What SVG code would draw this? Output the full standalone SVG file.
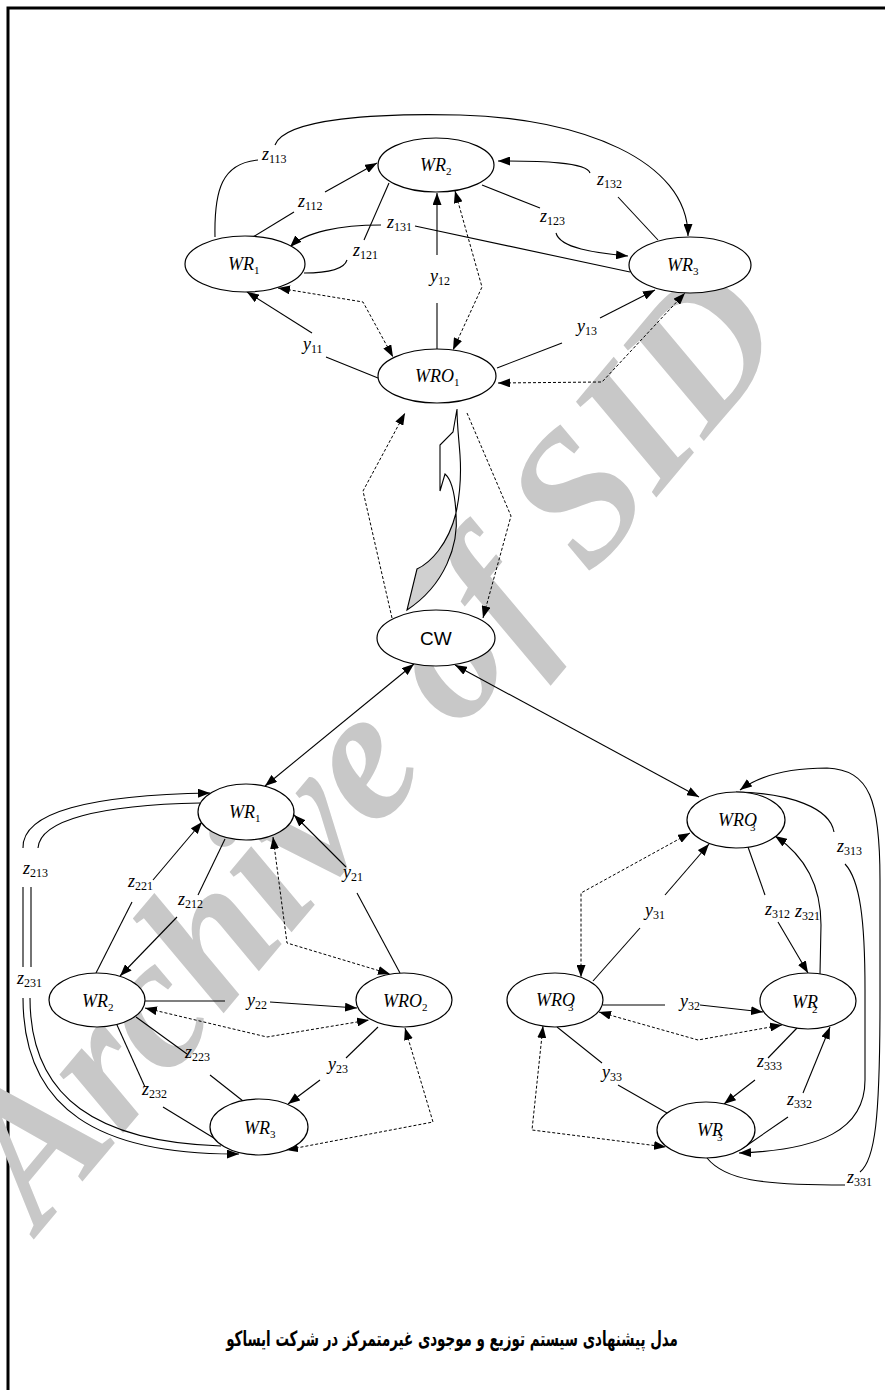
<svg xmlns="http://www.w3.org/2000/svg" width="885" height="1390" viewBox="0 0 885 1390">
<style>
.bg{fill:#fff}
.wm{font-family:"Liberation Serif",serif;font-weight:bold;font-style:italic;font-size:188px;fill:#c8c8c8}
.node ellipse{fill:#fff;stroke:#000;stroke-width:1.2}
.n{font-family:"Liberation Serif",serif;font-style:italic;font-size:18px;fill:#000}
.sn{font-style:normal;font-size:11px}
.cw{font-family:"Liberation Sans",Arial,sans-serif;font-size:19px;fill:#000}
.v{font-family:"Liberation Serif",serif;font-style:italic;font-size:18px;fill:#000}
.s{font-style:normal;font-size:12px}
.c path{fill:none;stroke:#000;stroke-width:1.1}
.c .d{stroke-dasharray:3,2;stroke-width:1}
.c .e{marker-end:url(#a)}
.c .b{marker-start:url(#a);marker-end:url(#a)}
.c .g{fill:#d0d0d0}
.c .w{fill:#fff}
.cap{font-family:"DejaVu Sans",sans-serif;font-weight:bold;font-size:21px;fill:#000}
</style>
<defs>
<marker id="a" viewBox="0 0 12 9" markerWidth="12" markerHeight="9" refX="12" refY="4.5" orient="auto-start-reverse" markerUnits="userSpaceOnUse"><path d="M0,0L12,4.5L0,9z" fill="#000"/></marker>
</defs>
<rect class="bg" x="0" y="0" width="885" height="1390"/>
<path d="M8,1390V8H885" fill="none" stroke="#000" stroke-width="3"/>
<text class="wm" transform="translate(40,1232) rotate(-50)">Archive of SID</text>

<g id="connectors" class="c">
<!-- top cluster -->
<path d="M215,237 C214,190 222,163 258,160"/>
<path class="e" d="M275,145 C285,118 380,113 460,115 C580,118 688,160 688,236"/>
<path d="M253,237 L294,212"/>
<path class="e" d="M325,192 L377,163"/>
<path d="M389,183 L364,240"/>
<path d="M347,260 C344,270 325,273 304,273"/>
<path d="M630,272 L415,226"/>
<path class="e" d="M381,225 C340,225 305,232 290,247"/>
<path d="M658,240 L618,197"/>
<path class="e" d="M590,173 C587,162 540,161 498,161"/>
<path d="M482,185 L540,208"/>
<path class="e" d="M556,233 C560,248 595,253 628,256"/>
<path d="M437,349 L437,303"/>
<path class="e" d="M437,255 L437,193"/>
<path class="d b" d="M455,191 L482,287 L453,350"/>
<path class="d b" d="M278,288 L363,302 L393,357"/>
<path d="M378,378 L326,357"/>
<path class="e" d="M312,333 L247,292"/>
<path d="M497,368 L562,343"/>
<path class="e" d="M600,318 L655,290"/>
<path class="d b" d="M498,383 L602,382 L685,293"/>
<!-- middle -->
<path class="d e" d="M392,618 L363,491 L405,413"/>
<path class="d e" d="M467,413 L511,516 L483,618"/>
<path class="g" d="M407,610 L417,569 C430,563 448,545 456,513 C459,545 445,585 407,610 Z"/>
<path class="w" d="M456,513 C461,490 461,470 460,455 C459,440 457,425 457,409 L453,432 L440,445 L440,491 L445,474 C452,480 455,495 456,513 Z"/>
<path class="b" d="M414,664 L265,786"/>
<path class="b" d="M455,665 L699,797"/>
<!-- bottom-left cluster -->
<path class="e" d="M23,848 C22,812 90,795 210,793"/>
<path d="M38,848 C40,820 100,805 200,803"/>
<path d="M23,887 L23,967"/>
<path d="M31,887 L31,967"/>
<path class="e" d="M23,998 C23,1110 100,1155 239,1154"/>
<path d="M30,998 C30,1100 100,1142 221,1146"/>
<path d="M96,973 L132,902"/>
<path class="e" d="M153,880 L202,822"/>
<path d="M225,839 L198,895"/>
<path class="e" d="M177,917 L120,976"/>
<path d="M145,1001 L225,1001"/>
<path class="e" d="M270,1002 L357,1008"/>
<path class="d b" d="M145,1008 L267,1037 L369,1020"/>
<path class="d b" d="M273,837 L287,943 L390,974"/>
<path d="M400,973 L357,893"/>
<path class="e" d="M346,867 L294,815"/>
<path d="M378,1027 L346,1058"/>
<path class="e" d="M320,1080 L288,1104"/>
<path class="d b" d="M405,1028 L433,1122 L286,1150"/>
<path d="M136,1017 L187,1054"/>
<path d="M210,1075 L243,1101"/>
<path d="M117,1025 L145,1087"/>
<path d="M163,1107 L222,1143"/>
<!-- bottom-right cluster -->
<path d="M593,981 L640,928"/>
<path class="e" d="M665,895 L709,844"/>
<path class="d b" d="M690,833 L581,893 L581,977"/>
<path d="M603,1005 L665,1005"/>
<path class="e" d="M700,1005 L763,1012"/>
<path class="d b" d="M599,1012 L698,1040 L782,1025"/>
<path d="M557,1027 L602,1063"/>
<path d="M618,1085 L667,1113"/>
<path class="d b" d="M543,1026 L532,1130 L666,1147"/>
<path d="M748,847 L765,895"/>
<path class="e" d="M778,922 L808,973"/>
<path class="e" d="M820,974 L821,925 C821,890 808,858 775,836"/>
<path d="M736,792 C790,793 830,808 834,832"/>
<path class="e" d="M845,864 C860,880 865,920 865,990 L865,1080 C865,1130 820,1150 739,1153"/>
<path d="M707,1158 C725,1180 760,1185 845,1185"/>
<path class="e" d="M860,1172 C875,1160 880,1120 880,1000 L880,880 C880,800 870,770 827,768 C790,768 760,775 740,790"/>
<path d="M797,1028 L768,1058"/>
<path class="e" d="M755,1080 L724,1104"/>
<path d="M746,1146 L788,1117"/>
<path class="e" d="M803,1093 L830,1027"/>
</g>

<g id="labels">
<text class="v" x="262" y="160">z<tspan class="s" dy="3">113</tspan></text>
<text class="v" x="298" y="207">z<tspan class="s" dy="3">112</tspan></text>
<text class="v" x="387" y="228">z<tspan class="s" dy="3">131</tspan></text>
<text class="v" x="353" y="256">z<tspan class="s" dy="3">121</tspan></text>
<text class="v" x="430" y="282">y<tspan class="s" dy="3">12</tspan></text>
<text class="v" x="303" y="350">y<tspan class="s" dy="3">11</tspan></text>
<text class="v" x="597" y="185">z<tspan class="s" dy="3">132</tspan></text>
<text class="v" x="540" y="222">z<tspan class="s" dy="3">123</tspan></text>
<text class="v" x="577" y="332">y<tspan class="s" dy="3">13</tspan></text>
<text class="v" x="23" y="874">z<tspan class="s" dy="3">213</tspan></text>
<text class="v" x="17" y="984">z<tspan class="s" dy="3">231</tspan></text>
<text class="v" x="128" y="887">z<tspan class="s" dy="3">221</tspan></text>
<text class="v" x="178" y="905">z<tspan class="s" dy="3">212</tspan></text>
<text class="v" x="185" y="1058">z<tspan class="s" dy="3">223</tspan></text>
<text class="v" x="142" y="1095">z<tspan class="s" dy="3">232</tspan></text>
<text class="v" x="343" y="878">y<tspan class="s" dy="3">21</tspan></text>
<text class="v" x="247" y="1006">y<tspan class="s" dy="3">22</tspan></text>
<text class="v" x="328" y="1070">y<tspan class="s" dy="3">23</tspan></text>
<text class="v" x="645" y="916">y<tspan class="s" dy="3">31</tspan></text>
<text class="v" x="680" y="1007">y<tspan class="s" dy="3">32</tspan></text>
<text class="v" x="602" y="1078">y<tspan class="s" dy="3">33</tspan></text>
<text class="v" x="765" y="915">z<tspan class="s" dy="3">312</tspan></text>
<text class="v" x="795" y="917">z<tspan class="s" dy="3">321</tspan></text>
<text class="v" x="837" y="852">z<tspan class="s" dy="3">313</tspan></text>
<text class="v" x="757" y="1067">z<tspan class="s" dy="3">333</tspan></text>
<text class="v" x="787" y="1105">z<tspan class="s" dy="3">332</tspan></text>
<text class="v" x="847" y="1183">z<tspan class="s" dy="3">331</tspan></text>
</g>

<g id="n-wr2-top" class="node"><ellipse cx="436" cy="165" rx="58" ry="27"/><text class="n" x="420" y="171">WR<tspan class="sn" dy="4">2</tspan></text></g>
<g id="n-wr1-top" class="node"><ellipse cx="245" cy="264" rx="60" ry="28"/><text class="n" x="228" y="270">WR<tspan class="sn" dy="4">1</tspan></text></g>
<g id="n-wr3-top" class="node"><ellipse cx="690" cy="265" rx="61" ry="28"/><text class="n" x="667" y="271">WR<tspan class="sn" dy="4">3</tspan></text></g>
<g id="n-wro1" class="node"><ellipse cx="437" cy="376" rx="59" ry="27"/><text class="n" x="415" y="382">WRO<tspan class="sn" dy="4">1</tspan></text></g>
<g id="n-cw" class="node"><ellipse cx="436" cy="638" rx="59" ry="28"/><text class="cw" x="420" y="645">CW</text></g>
<g id="n-wr1-bl" class="node"><ellipse cx="246" cy="812" rx="48" ry="28"/><text class="n" x="229" y="818">WR<tspan class="sn" dy="4">1</tspan></text></g>
<g id="n-wr2-bl" class="node"><ellipse cx="97" cy="1000" rx="48" ry="27"/><text class="n" x="82" y="1007">WR<tspan class="sn" dy="4">2</tspan></text></g>
<g id="n-wro2" class="node"><ellipse cx="404" cy="1000" rx="48" ry="27"/><text class="n" x="383" y="1007">WRO<tspan class="sn" dy="4">2</tspan></text></g>
<g id="n-wr3-bl" class="node"><ellipse cx="259" cy="1127" rx="49" ry="28"/><text class="n" x="244" y="1134">WR<tspan class="sn" dy="4">3</tspan></text></g>
<g id="n-wro3-top" class="node"><ellipse cx="736" cy="820" rx="49" ry="28"/><text class="n" x="718" y="826">WRO<tspan class="sn" dx="-7" dy="5">3</tspan></text></g>
<g id="n-wro3-left" class="node"><ellipse cx="555" cy="1000" rx="48" ry="27"/><text class="n" x="536" y="1006">WRO<tspan class="sn" dx="-7" dy="5">3</tspan></text></g>
<g id="n-wr2-br" class="node"><ellipse cx="808" cy="1001" rx="48" ry="28"/><text class="n" x="792" y="1008">WR<tspan class="sn" dx="-6" dy="5">2</tspan></text></g>
<g id="n-wr3-br" class="node"><ellipse cx="706" cy="1130" rx="49" ry="28"/><text class="n" x="697" y="1136">WR<tspan class="sn" dx="-6" dy="5">3</tspan></text></g>

<text class="cap" transform="translate(452,1346) scale(0.64,1)" x="0" y="0" text-anchor="middle">مدل پیشنهادی سیستم توزیع و موجودی غیرمتمرکز در شرکت ایساکو</text>
</svg>
